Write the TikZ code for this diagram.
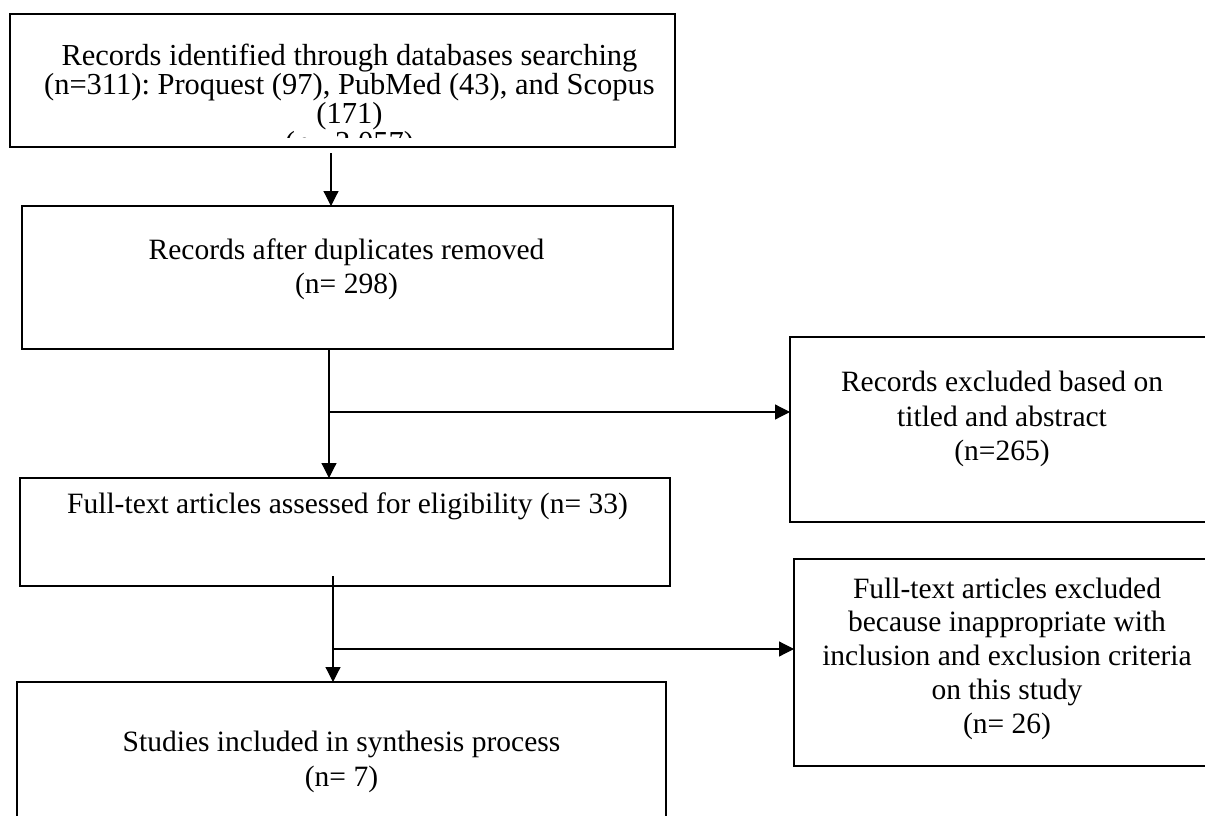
\documentclass[tikz,border=0pt]{standalone}
\usepackage{fontspec}
\setmainfont{Liberation Serif}
\usetikzlibrary{arrows.meta}
\frenchspacing
\begin{document}
\begin{tikzpicture}[x=1pt,y=-1pt,
  box/.style={draw=black,line width=2.4pt,rectangle,inner sep=0pt,outer sep=0pt,anchor=north west},
  conn/.style={draw=black,line width=1.2pt},
  arr/.style={conn,-{Triangle[width=15pt,length=15pt]}},
  txt/.style={inner sep=0pt,align=center,font=\fontsize{29.5}{34}\selectfont}]
\useasboundingbox (0,0) rectangle (1205,816);
\clip (0,0) rectangle (1205,816);
\fill[white] (0,0) rectangle (1205,816);
% boxes
\node[box,minimum width=665pt,minimum height=133pt] (b1) at (10,14) {};
\node[box,minimum width=651pt,minimum height=143pt] (b2) at (22,206) {};
\node[box,minimum width=650pt,minimum height=108pt] (b3) at (20,478) {};
\node[box,minimum width=649pt,minimum height=180pt] (b4) at (17,682) {};
\node[box,minimum width=424pt,minimum height=185pt] (r1) at (790,337) {};
\node[box,minimum width=426pt,minimum height=207pt] (r2) at (794,559) {};
% texts
\begin{scope}
\clip (10,14) rectangle (675,137.5);
\node[txt,font=\fontsize{30.5}{29}\selectfont,anchor=north] (t1) at (349.5,44)
 {Records identified through databases searching\\(n=311): Proquest (97), PubMed (43), and Scopus\\(171)\\(n= 2,057)};
\end{scope}
\node[txt,anchor=north] (t2) at (346.5,238.4) {Records after duplicates removed\\(n= 298)};
\node[txt,anchor=base] (t3) at (347.5,513.4) {Full-text articles assessed for eligibility (n= 33)};
\node[txt,font=\fontsize{29.5}{35}\selectfont,anchor=north] (t4) at (341.5,731) {Studies included in synthesis process\\(n= 7)};
\node[txt,font=\fontsize{29.5}{34.5}\selectfont,anchor=north] (t5) at (1002,371) {Records excluded based on\\titled and abstract\\(n=265)};
\node[txt,font=\fontsize{29.5}{33.8}\selectfont,anchor=north] (t6) at (1007,577.5) {Full-text articles excluded\\because inappropriate with\\inclusion and exclusion criteria\\on this study\\(n= 26)};
% connectors
\coordinate (s1) at (331,153);
\draw[arr] (s1) -- (s1 |- b2.north);
\coordinate (j2) at (329,412);
\draw[arr] (b2.south -| j2) -- (b3.north -| j2);
\draw[arr] (j2) -- (j2 -| r1.west);
\coordinate (s3) at (333,576);
\coordinate (j3) at (333,649);
\draw[arr] (s3) -- (s3 |- b4.north);
\draw[arr] (j3) -- (j3 -| r2.west);
\end{tikzpicture}
\end{document}
